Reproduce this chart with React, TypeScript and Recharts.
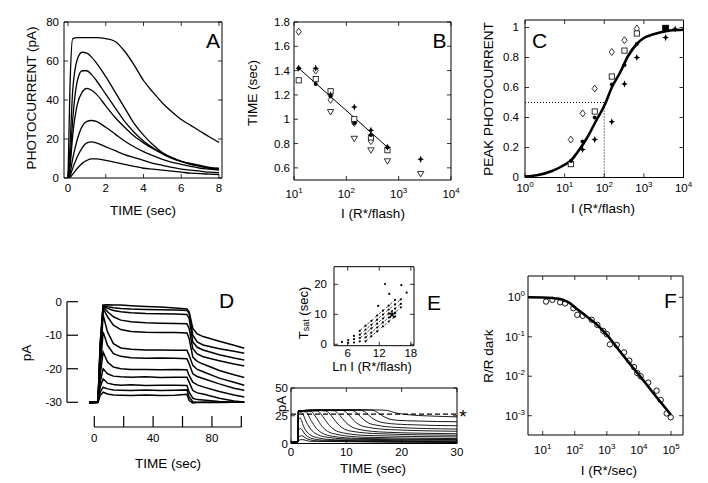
import React from 'react';
import { ComposedChart, Line, Scatter, XAxis, YAxis, ReferenceArea, ReferenceLine } from 'recharts';

const W = 708;
const H = 483;
const FONT = '"Liberation Sans", Arial, Helvetica, sans-serif';
const TFS = 11.5;
const LFS = 13.5;

// ---------- Panel A ----------
const A_TIME = [0, 0.1, 0.25, 0.5, 0.75, 1, 1.25, 1.5, 2, 2.5, 3, 3.5, 4, 4.5, 5, 5.5, 6, 6.5, 7, 7.5, 8];
const A_TRACE_1 = [0, 45, 71.5, 72, 72, 72, 72, 72, 71.5, 70, 65, 58, 50, 44, 38.5, 34, 30, 27, 24, 21, 18.3];
const A_TRACE_2 = [0, 15, 45, 61, 64.5, 64, 62, 59, 52, 44, 36, 28, 22, 17, 13, 10.5, 8.5, 7, 6, 5, 4.5];
const A_TRACE_3 = [0, 8, 30, 50, 55, 55, 53, 50, 43, 36, 29, 23.5, 19, 15.5, 12.5, 10, 8.5, 7, 6, 5, 4.5];
const A_TRACE_4 = [0, 5, 22, 38, 44, 46, 45, 43, 37, 31, 26, 21.5, 18, 15, 12.5, 10.5, 8.5, 7.5, 6.5, 5.5, 5];
const A_TRACE_5 = [0, 2, 10, 20, 26.5, 29, 29.5, 29, 26, 22.5, 19, 16, 13.5, 11.5, 9.5, 8, 7, 6, 5, 4.5, 4];
const A_TRACE_6 = [0, 1, 5, 11, 15.5, 18, 18.5, 18, 16, 14, 12, 10.5, 9, 7.5, 6.5, 5.5, 4.5, 4, 3.5, 3, 2.8];
const A_TRACE_7 = [0, 0.3, 2, 5, 7.5, 9, 9.8, 9.8, 9, 8, 7, 6, 5, 4.5, 4, 3.5, 3, 2.5, 2.2, 2, 1.8];
const A_X_TICKS = [0, 2, 4, 6, 8];
const A_Y_TICKS = [0, 20, 40, 60, 80];

// ---------- Panel B ----------
const B_DIAMOND_I = [12.3, 26, 50, 142, 295];
const B_DIAMOND_T = [1.72, 1.4, 1.16, 0.97, 0.82];
const B_SQUARE_I = [12.3, 26, 50, 142, 295, 610];
const B_SQUARE_T = [1.32, 1.33, 1.23, 1.0, 0.85, 0.745];
const B_TRI_I = [50, 142, 295, 610, 2630];
const B_TRI_T = [1.06, 0.84, 0.745, 0.655, 0.55];
const B_STAR_I = [12.3, 26, 50, 142, 295, 610, 2630];
const B_STAR_T = [1.42, 1.42, 1.2, 1.1, 0.91, 0.77, 0.67];
const B_DOT_I = [12.3, 26, 50, 142, 295, 610];
const B_DOT_T = [1.42, 1.29, 1.19, 0.97, 0.87, 0.77];
const B_FIT_I = [12.3, 610];
const B_FIT_T = [1.42, 0.77];
const B_X_TICKS = [10, 100, 1000, 10000];
const B_Y_TICKS = [0.6, 0.8, 1, 1.2, 1.4, 1.6, 1.8];

// ---------- Panel C ----------
const C_DIAMOND_I = [14.3, 28.6, 57.5, 155, 324, 663];
const C_DIAMOND_P = [0.253, 0.427, 0.593, 0.837, 0.915, 0.993];
const C_SQUARE_I = [14.3, 57.5, 155, 324, 663];
const C_SQUARE_P = [0.089, 0.44, 0.673, 0.846, 0.96];
const C_SQFILL_I = [3550];
const C_SQFILL_P = [0.995];
const C_STAR_I = [28.3, 57.5, 155, 324, 663, 3550, 6150];
const C_STAR_P = [0.187, 0.253, 0.371, 0.624, 0.8, 0.933, 0.99];
const C_DOT_I = [14.3, 28.3, 57.5, 155, 324, 663, 3550];
const C_DOT_P = [0.11, 0.24, 0.4, 0.62, 0.75, 0.89, 0.99];
const C_FIT_I = [1, 2, 5, 10, 14, 20, 36, 60, 105, 155, 251, 400, 663, 1000, 1740, 4600, 10000];
const C_FIT_P = [0.006, 0.015, 0.045, 0.085, 0.11, 0.16, 0.26, 0.37, 0.49, 0.6, 0.7, 0.81, 0.89, 0.93, 0.955, 0.98, 0.985];
const C_X_TICKS = [1, 10, 100, 1000, 10000];
const C_Y_TICKS = [0, 0.2, 0.4, 0.6, 0.8, 1];

// ---------- Panel D ----------
const D_TIME = [-3.5, 2.5, 4, 6, 9, 13, 18, 25, 35, 45, 55, 63, 64.5, 67, 70, 74, 85, 95, 102];
const D_TRACE_1 = [-30.3, -30, -12, -1, -0.9, -1, -1, -1.2, -1.4, -1.6, -1.9, -2.2, -3, -8, -9.6, -10.4, -11.8, -13, -13.9];
const D_TRACE_2 = [-30.2, -30, -13, -1.2, -1.5, -1.8, -2, -2.2, -2.3, -2.4, -2.5, -2.6, -3.5, -10, -12, -12.9, -14, -14.8, -15.4];
const D_TRACE_3 = [-30, -30, -14, -1.3, -2, -2.6, -3, -3.3, -3.5, -3.6, -3.7, -3.8, -5, -12, -13.6, -14.4, -15.8, -16.8, -17.4];
const D_TRACE_4 = [-30.1, -30, -15, -1.5, -3, -4.5, -5.5, -6, -6.3, -6.4, -6.5, -6.6, -8, -14, -15.6, -16.4, -17.6, -18.6, -19.2];
const D_TRACE_5 = [-30, -30, -16, -2, -4.5, -7, -8.3, -8.9, -9.1, -9.2, -9.2, -9.3, -11, -16.5, -17.8, -18.6, -20.5, -21.8, -22.6];
const D_TRACE_6 = [-30.2, -30, -18, -4, -9, -12.5, -13.8, -14.2, -14.4, -14.4, -14.5, -14.5, -16, -19, -20.2, -20.9, -22.8, -24, -24.9];
const D_TRACE_7 = [-30, -30, -20, -9, -13, -15.5, -16.3, -16.7, -16.9, -16.8, -16.9, -17, -18.5, -21.5, -22.3, -22.9, -24.5, -25.8, -26.4];
const D_TRACE_8 = [-30.1, -30, -22, -15, -18, -19.5, -20, -20.2, -20.2, -20.3, -20.2, -20.3, -22, -24, -24.8, -25.4, -26.8, -27.8, -28.4];
const D_TRACE_9 = [-30, -30, -24, -20, -21.5, -22.2, -22.4, -22.5, -22.4, -22.6, -22.5, -22.5, -24, -26.5, -27.2, -27.5, -28.8, -29.6, -29.9];
const D_TRACE_10 = [-30.2, -30, -25.5, -23, -24.3, -24.7, -24.9, -24.8, -25, -24.9, -24.9, -25, -27, -28.8, -29.2, -29.3, -29.8, -30, -30];
const D_TRACE_11 = [-30, -30, -27, -25.5, -26, -26.3, -26.4, -26.5, -26.3, -26.5, -26.4, -26.3, -28.5, -29.8, -30, -30, -30, -30, -30];
const D_TRACE_12 = [-30.1, -30, -28, -27, -27.5, -27.8, -27.9, -28, -27.8, -28, -27.9, -27.6, -29.5, -30.2, -30.1, -30, -30.1, -30, -30];
const D_X_TICKS = [0, 20, 40, 60, 80, 100];
const D_Y_TICKS = [0, -10, -20, -30];

// ---------- Panel E (inset) ----------
const EI_A_X = [8.3, 9.4, 10.5, 11.6, 12.7, 13.8, 15.0];
const EI_A_Y = [4.5, 6.2, 7.8, 9.6, 11.2, 12.9, 14.8];
const EI_B_X = [8.3, 9.4, 10.5, 11.6, 12.7, 13.8, 15.0, 16.1];
const EI_B_Y = [3.2, 4.9, 6.5, 8.2, 9.9, 11.6, 13.3, 15.0];
const EI_C_X = [8.3, 9.4, 10.5, 11.6, 12.7, 13.8, 15.0, 16.1];
const EI_C_Y = [2.1, 3.6, 5.3, 6.9, 8.6, 10.2, 11.9, 13.5];
const EI_D_X = [9.4, 10.5, 11.6, 12.7, 13.8, 15.0, 16.1];
const EI_D_Y = [2.3, 3.9, 5.6, 7.3, 8.9, 10.6, 12.3];
const EI_E_X = [9.4, 10.5, 11.6, 12.7, 13.8, 15.0];
const EI_E_Y = [1.0, 2.7, 4.3, 6.0, 7.6, 9.3];
const EI_EXTRA_X = [4.9, 6.1, 6.1, 7.2, 7.2, 7.2, 8.3, 11.8, 13.1, 13.9, 16.2, 17.2];
const EI_EXTRA_Y = [0.8, 1.4, 0.5, 2.8, 1.7, 0.6, 1.0, 12.8, 20.1, 16.8, 19.7, 17.2];
const EI_X_TICKS = [6, 12, 18];
const EI_Y_TICKS = [0, 10, 20];

// ---------- Panel E (main) ----------
const E_SAT: [number, number][] = [[0, 26.5], [30, 26.5]];
const E_TR_1: [number, number][] = [[0, 1.5], [1.25, 1.5], [1.35, 29.5], [5, 30.3], [12, 30.5], [17, 30], [19, 27.5], [21, 26], [25, 24.8], [30, 24]];
const E_TR_2: [number, number][] = [[0, 1.5], [1.25, 1.5], [1.35, 29.5], [5, 30.2], [14.5, 30], [15.5, 28.5], [16.5, 25], [17.5, 22.5], [19, 21], [23, 20.2], [30, 19.6]];
const E_TR_3: [number, number][] = [[0, 1.5], [1.25, 1.5], [1.35, 29.5], [5, 30], [12.5, 30], [13.5, 28], [14.5, 23.5], [15.5, 20.5], [17, 18.5], [21, 17], [30, 16]];
const E_TR_4: [number, number][] = [[0, 1.5], [1.25, 1.5], [1.35, 29.5], [5, 30], [11, 29.8], [12, 27], [13, 22], [14, 18.5], [15.5, 16.5], [19, 14.5], [30, 13]];
const E_TR_5: [number, number][] = [[0, 1.5], [1.25, 1.5], [1.35, 29.5], [5, 30], [9.3, 29.8], [10.3, 26.5], [11.3, 21], [12.3, 17], [14, 14.5], [18, 12.5], [30, 11]];
const E_TR_6: [number, number][] = [[0, 1.5], [1.25, 1.5], [1.35, 29.5], [5, 29.8], [7.8, 29.5], [8.8, 25.5], [9.8, 19.5], [10.8, 15.5], [12.5, 12.5], [17, 10.2], [30, 8.8]];
const E_TR_7: [number, number][] = [[0, 1.5], [1.25, 1.5], [1.35, 29.5], [4, 29.8], [6.3, 29.3], [7.3, 25], [8.3, 18.5], [9.3, 14], [11, 11], [16, 8.8], [30, 7.4]];
const E_TR_8: [number, number][] = [[0, 1.5], [1.25, 1.5], [1.35, 29.5], [4.8, 29.2], [5.8, 24], [6.8, 17], [7.8, 12.5], [9.5, 9.5], [14, 7.2], [30, 5.9]];
const E_TR_9: [number, number][] = [[0, 1.5], [1.25, 1.5], [1.35, 29.3], [3.6, 29], [4.6, 23], [5.6, 15.5], [6.6, 11], [8.5, 8], [13, 5.7], [30, 4.4]];
const E_TR_10: [number, number][] = [[0, 1.5], [1.25, 1.5], [1.35, 29], [2.7, 28.5], [3.6, 21], [4.6, 13.5], [5.6, 9.5], [7.5, 6.5], [12, 4.6], [30, 3.5]];
const E_TR_11: [number, number][] = [[0, 1.5], [1.25, 1.5], [1.35, 28.5], [1.9, 28], [2.8, 19], [3.8, 11.5], [4.8, 8], [7, 5.3], [11, 3.9], [30, 3]];
const E_TR_12: [number, number][] = [[0, 1.5], [1.25, 1.5], [1.35, 22], [1.6, 23], [2.4, 14], [3.4, 8], [5, 5], [8, 3.3], [30, 2.2]];
const E_TR_13: [number, number][] = [[0, 1.5], [1.25, 1.5], [1.35, 12], [1.7, 13.5], [2.6, 8], [3.8, 4.5], [6, 3], [30, 1.6]];
const E_TR_14: [number, number][] = [[0, 1.5], [1.25, 1.5], [1.4, 6], [1.9, 7], [3, 4], [5, 2.3], [30, 1.2]];
const E_TR_15: [number, number][] = [[0, 1.2], [1.25, 1.2], [1.4, 3], [2, 3.5], [3.5, 2], [30, 0.9]];
const E_X_TICKS = [0, 10, 20, 30];
const E_Y_TICKS = [0, 25, 50];

// ---------- Panel F ----------
const F_I = [12.7, 20, 35, 50, 90, 120, 177, 336, 506, 777, 988, 1250, 2030, 3430, 5000, 7030, 8900, 11300, 19500, 35500, 47600, 73300, 98000];
const F_R = [0.78, 0.86, 0.75, 0.7, 0.53, 0.36, 0.34, 0.27, 0.2, 0.14, 0.117, 0.064, 0.062, 0.04, 0.025, 0.017, 0.012, 0.01, 0.0069, 0.0043, 0.0025, 0.00114, 0.00091];
const F_FIT_I = [3.5, 10, 20, 40, 70, 100, 200, 500, 1000, 3000, 10000, 30000, 100000];
const F_FIT_R = [1.0, 0.99, 0.96, 0.88, 0.71, 0.56, 0.36, 0.2, 0.111, 0.036, 0.0108, 0.0035, 0.00105];
const F_X_TICKS = [10, 100, 1000, 10000, 100000];
const F_Y_TICKS = [1, 0.1, 0.01, 0.001];

// ---------- helpers ----------
type Box = { L: number; R: number; T: number; B: number };
type Pt = { x: number; y: number };
const zip = (xs: number[], ys: number[]): Pt[] => xs.map((x, i) => ({ x, y: ys[i] }));
const fromPairs = (ps: [number, number][]): Pt[] => ps.map(([x, y]) => ({ x, y }));
// axes take 1px each (XAxis height 1, YAxis width 1) so the plot box is exactly L..R, T..B
const margins = (b: Box) => ({ left: b.L - 1, right: W - b.R, top: b.T, bottom: H - b.B - 1 });
const abs: React.CSSProperties = { position: 'absolute', left: 0, top: 0 };
const TL = 4;

const PowText = ({ x, y, exp, anchor }: { x: number; y: number; exp: number; anchor: 'middle' | 'end' }) => (
  <text x={x} y={y} textAnchor={anchor} fontSize={TFS} fontFamily={FONT} fill="#000">
    10<tspan dy={-5} fontSize={8}>{exp}</tspan>
  </text>
);

const xTick = (b: Box, baseY: number, pow: boolean) => (p: any) => {
  const x = p.x as number;
  const v = p.payload.value as number;
  return (
    <g>
      <line x1={x} x2={x} y1={b.B} y2={b.B - TL} stroke="#000" strokeWidth={0.8} />
      <line x1={x} x2={x} y1={b.T} y2={b.T + TL} stroke="#000" strokeWidth={0.8} />
      {pow ? (
        <PowText x={x} y={baseY} exp={Math.round(Math.log10(v))} anchor="middle" />
      ) : (
        <text x={x} y={baseY} textAnchor="middle" fontSize={TFS} fontFamily={FONT} fill="#000">{String(v)}</text>
      )}
    </g>
  );
};

const yTick = (b: Box, labelX: number, pow: boolean, dy = 4) => (p: any) => {
  const y = p.y as number;
  const v = p.payload.value as number;
  return (
    <g>
      <line x1={b.L} x2={b.L + TL} y1={y} y2={y} stroke="#000" strokeWidth={0.8} />
      <line x1={b.R} x2={b.R - TL} y1={y} y2={y} stroke="#000" strokeWidth={0.8} />
      {pow ? (
        <PowText x={labelX} y={y + dy} exp={Math.round(Math.log10(v))} anchor="end" />
      ) : (
        <text x={labelX} y={y + dy} textAnchor="end" fontSize={TFS} fontFamily={FONT} fill="#000">{String(v)}</text>
      )}
    </g>
  );
};

const VTitle = ({ cx, cy, children, fs = LFS }: { cx: number; cy: number; children: React.ReactNode; fs?: number }) => (
  <text x={cx} y={cy} transform={`rotate(-90 ${cx} ${cy})`} textAnchor="middle" dominantBaseline="central" fontSize={fs} fontFamily={FONT} fill="#000">
    {children}
  </text>
);
const HTitle = ({ cx, y, children, fs = LFS }: { cx: number; y: number; children: React.ReactNode; fs?: number }) => (
  <text x={cx} y={y} textAnchor="middle" fontSize={fs} fontFamily={FONT} fill="#000">{children}</text>
);
const Letter = ({ cx, y, children }: { cx: number; y: number; children: React.ReactNode }) => (
  <text x={cx} y={y} textAnchor="middle" fontSize={21} fontFamily={FONT} fill="#000">{children}</text>
);

// marker shapes
const diamondShape = (p: any) => (
  <path d={`M${p.cx},${p.cy - 3.5}L${p.cx + 2.6},${p.cy}L${p.cx},${p.cy + 3.5}L${p.cx - 2.6},${p.cy}Z`} fill="#fff" stroke="#000" strokeWidth={0.8} />
);
const squareShape = (p: any) => (
  <rect x={p.cx - 2.6} y={p.cy - 2.6} width={5.2} height={5.2} fill="#fff" stroke="#000" strokeWidth={0.8} />
);
const squareFilledShape = (p: any) => (
  <rect x={p.cx - 3} y={p.cy - 3} width={6} height={6} fill="#000" stroke="#000" strokeWidth={0.8} />
);
const triDownShape = (p: any) => (
  <path d={`M${p.cx - 3.2},${p.cy - 2.4}L${p.cx + 3.2},${p.cy - 2.4}L${p.cx},${p.cy + 3}Z`} fill="#fff" stroke="#000" strokeWidth={0.8} />
);
const starShape = (p: any) => (
  <path
    d={`M${p.cx},${p.cy - 3.6}L${p.cx + 1},${p.cy - 1}L${p.cx + 3.3},${p.cy}L${p.cx + 1},${p.cy + 1}L${p.cx},${p.cy + 3.6}L${p.cx - 1},${p.cy + 1}L${p.cx - 3.3},${p.cy}L${p.cx - 1},${p.cy - 1}Z`}
    fill="#000"
  />
);
const dotShape = (r: number) => (p: any) => <circle cx={p.cx} cy={p.cy} r={r} fill="#000" />;
const ringShape = (p: any) => <circle cx={p.cx} cy={p.cy} r={2.7} fill="none" stroke="#000" strokeWidth={0.9} />;

const axisCommon = { tickSize: 0, tickMargin: 0, axisLine: false, tickLine: false, interval: 0 as const, allowDataOverflow: true };

// ---------- Panels ----------
const BOX_A: Box = { L: 64, R: 222, T: 22, B: 178 };
const A_XDOM: [number, number] = [-0.212, 8.159];
function PanelA() {
  const traces = [A_TRACE_1, A_TRACE_2, A_TRACE_3, A_TRACE_4, A_TRACE_5, A_TRACE_6, A_TRACE_7].map((ys) => zip(A_TIME, ys));
  return (
    <div style={abs}>
      <ComposedChart width={W} height={H} margin={margins(BOX_A)}>
        <XAxis type="number" dataKey="x" domain={A_XDOM} ticks={A_X_TICKS} height={1} tick={xTick(BOX_A, 192, false)} {...axisCommon} />
        <YAxis type="number" domain={[0, 80]} ticks={A_Y_TICKS} width={1} tick={yTick(BOX_A, BOX_A.L - 5, false)} {...axisCommon} />
        <ReferenceArea x1={A_XDOM[0]} x2={A_XDOM[1]} y1={0} y2={80} fill="none" stroke="#000" strokeWidth={1} ifOverflow="visible" />
        {traces.map((d, i) => (
          <Line key={i} data={d} dataKey="y" type="monotone" stroke="#000" strokeWidth={1.3} dot={false} isAnimationActive={false} />
        ))}
        <VTitle cx={31} cy={98}>PHOTOCURRENT (pA)</VTitle>
        <HTitle cx={143} y={215}>TIME (sec)</HTitle>
        <Letter cx={213} y={48}>A</Letter>
      </ComposedChart>
    </div>
  );
}

const BOX_B: Box = { L: 294, R: 451, T: 22, B: 180 };
function PanelB() {
  return (
    <div style={abs}>
      <ComposedChart width={W} height={H} margin={margins(BOX_B)}>
        <XAxis type="number" dataKey="x" scale="log" domain={[10, 10000]} ticks={B_X_TICKS} height={1} tick={xTick(BOX_B, 198, true)} {...axisCommon} />
        <YAxis type="number" domain={[0.5, 1.8]} ticks={B_Y_TICKS} width={1} tick={yTick(BOX_B, BOX_B.L - 4, false)} {...axisCommon} />
        <ReferenceArea x1={10} x2={10000} y1={0.5} y2={1.8} fill="none" stroke="#000" strokeWidth={1} ifOverflow="visible" />
        <Line data={zip(B_FIT_I, B_FIT_T)} dataKey="y" type="linear" stroke="#000" strokeWidth={1} dot={false} isAnimationActive={false} />
        <Scatter data={zip(B_DIAMOND_I, B_DIAMOND_T)} dataKey="y" shape={diamondShape} isAnimationActive={false} />
        <Scatter data={zip(B_SQUARE_I, B_SQUARE_T)} dataKey="y" shape={squareShape} isAnimationActive={false} />
        <Scatter data={zip(B_TRI_I, B_TRI_T)} dataKey="y" shape={triDownShape} isAnimationActive={false} />
        <Scatter data={zip(B_STAR_I, B_STAR_T)} dataKey="y" shape={starShape} isAnimationActive={false} />
        <Scatter data={zip(B_DOT_I, B_DOT_T)} dataKey="y" shape={dotShape(2)} isAnimationActive={false} />
        <VTitle cx={252} cy={93}>TIME (sec)</VTitle>
        <HTitle cx={373} y={218}>I (R*/flash)</HTitle>
        <Letter cx={439.5} y={47.5}>B</Letter>
      </ComposedChart>
    </div>
  );
}

const BOX_C: Box = { L: 525, R: 683.5, T: 20, B: 177.5 };
function PanelC() {
  return (
    <div style={abs}>
      <ComposedChart width={W} height={H} margin={margins(BOX_C)}>
        <XAxis type="number" dataKey="x" scale="log" domain={[1, 10000]} ticks={C_X_TICKS} height={1} tick={xTick(BOX_C, 192, true)} {...axisCommon} />
        <YAxis type="number" domain={[0, 1.05]} ticks={C_Y_TICKS} width={1} tick={yTick(BOX_C, BOX_C.L - 6, false, 3)} {...axisCommon} />
        <ReferenceArea x1={1} x2={10000} y1={0} y2={1.05} fill="none" stroke="#000" strokeWidth={1} ifOverflow="visible" />
        <ReferenceLine segment={[{ x: 1, y: 0.5 }, { x: 100, y: 0.5 }]} stroke="#000" strokeWidth={1} strokeDasharray="1 2" ifOverflow="visible" />
        <ReferenceLine segment={[{ x: 100, y: 0 }, { x: 100, y: 0.5 }]} stroke="#000" strokeWidth={1} strokeDasharray="1 2" ifOverflow="visible" />
        <Line data={zip(C_FIT_I, C_FIT_P)} dataKey="y" type="monotone" stroke="#000" strokeWidth={2.6} dot={false} isAnimationActive={false} />
        <Scatter data={zip(C_DIAMOND_I, C_DIAMOND_P)} dataKey="y" shape={diamondShape} isAnimationActive={false} />
        <Scatter data={zip(C_SQUARE_I, C_SQUARE_P)} dataKey="y" shape={squareShape} isAnimationActive={false} />
        <Scatter data={zip(C_SQFILL_I, C_SQFILL_P)} dataKey="y" shape={squareFilledShape} isAnimationActive={false} />
        <Scatter data={zip(C_STAR_I, C_STAR_P)} dataKey="y" shape={starShape} isAnimationActive={false} />
        <Scatter data={zip(C_DOT_I, C_DOT_P)} dataKey="y" shape={dotShape(2)} isAnimationActive={false} />
        <VTitle cx={488} cy={99}>PEAK PHOTOCURRENT</VTitle>
        <HTitle cx={603} y={213}>I (R*/flash)</HTitle>
        <Letter cx={539.5} y={47.5}>C</Letter>
      </ComposedChart>
    </div>
  );
}

const BOX_D: Box = { L: 67, R: 245, T: 296, B: 427 };
const D_XDOM: [number, number] = [-18.57, 102.5];
const D_YDOM: [number, number] = [-37.37, 1.7];
const dXTick = (p: any) => {
  const x = p.x as number;
  const v = p.payload.value as number;
  return (
    <g>
      <line x1={x} x2={x} y1={BOX_D.B} y2={BOX_D.B - 11} stroke="#000" strokeWidth={1.2} />
      {v % 40 === 0 ? (
        <text x={x} y={441.5} textAnchor="middle" fontSize={TFS} fontFamily={FONT} fill="#000">{String(v)}</text>
      ) : null}
    </g>
  );
};
const dYTick = (p: any) => {
  const y = p.y as number;
  const v = p.payload.value as number;
  return (
    <g>
      <line x1={BOX_D.L} x2={BOX_D.L + 11} y1={y} y2={y} stroke="#000" strokeWidth={1.2} />
      <text x={BOX_D.L - 5} y={y + 4} textAnchor="end" fontSize={TFS} fontFamily={FONT} fill="#000">{String(v)}</text>
    </g>
  );
};
function PanelD() {
  const traces = [D_TRACE_1, D_TRACE_2, D_TRACE_3, D_TRACE_4, D_TRACE_5, D_TRACE_6, D_TRACE_7, D_TRACE_8, D_TRACE_9, D_TRACE_10, D_TRACE_11, D_TRACE_12].map((ys) =>
    zip(D_TIME, ys)
  );
  return (
    <div style={abs}>
      <ComposedChart width={W} height={H} margin={margins(BOX_D)}>
        <XAxis type="number" dataKey="x" domain={D_XDOM} ticks={D_X_TICKS} height={1} tick={dXTick} {...axisCommon} />
        <YAxis type="number" domain={D_YDOM} ticks={D_Y_TICKS} width={1} tick={dYTick} {...axisCommon} />
        <ReferenceLine segment={[{ x: D_XDOM[0], y: 0 }, { x: D_XDOM[0], y: -30 }]} stroke="#000" strokeWidth={1.2} ifOverflow="visible" />
        <ReferenceLine segment={[{ x: 0, y: D_YDOM[0] }, { x: 100, y: D_YDOM[0] }]} stroke="#000" strokeWidth={1.2} ifOverflow="visible" />
        {traces.map((d, i) => (
          <Line key={i} data={d} dataKey="y" type="linear" stroke="#000" strokeWidth={1.5} dot={false} isAnimationActive={false} />
        ))}
        <VTitle cx={26} cy={353}>pA</VTitle>
        <HTitle cx={168} y={468}>TIME (sec)</HTitle>
        <Letter cx={226.5} y={308}>D</Letter>
      </ComposedChart>
    </div>
  );
}

const BOX_EI: Box = { L: 334, R: 414, T: 266.7, B: 345.7 };
const EI_XDOM: [number, number] = [3.4, 18.6];
const EI_YDOM: [number, number] = [-0.47, 25.87];
function PanelEInset() {
  const lines = [zip(EI_A_X, EI_A_Y), zip(EI_B_X, EI_B_Y), zip(EI_C_X, EI_C_Y), zip(EI_D_X, EI_D_Y), zip(EI_E_X, EI_E_Y)];
  return (
    <div style={abs}>
      <ComposedChart width={W} height={H} margin={margins(BOX_EI)}>
        <XAxis type="number" dataKey="x" domain={EI_XDOM} ticks={EI_X_TICKS} height={1} tick={xTick(BOX_EI, 357, false)} {...axisCommon} />
        <YAxis type="number" domain={EI_YDOM} ticks={EI_Y_TICKS} width={1} tick={yTick(BOX_EI, 327, false)} {...axisCommon} />
        <ReferenceArea x1={EI_XDOM[0]} x2={EI_XDOM[1]} y1={EI_YDOM[0]} y2={EI_YDOM[1]} fill="none" stroke="#000" strokeWidth={1} ifOverflow="visible" />
        {lines.map((d, i) => (
          <Line key={i} data={d} dataKey="y" type="linear" stroke="#000" strokeWidth={0.7} strokeDasharray="3 2" dot={false} isAnimationActive={false} />
        ))}
        {lines.map((d, i) => (
          <Scatter key={'s' + i} data={d} dataKey="y" shape={dotShape(1.1)} isAnimationActive={false} />
        ))}
        <Scatter data={zip(EI_EXTRA_X, EI_EXTRA_Y)} dataKey="y" shape={dotShape(1.1)} isAnimationActive={false} />
        <text x={392} y={327} textAnchor="middle" fontSize={23} fontFamily={FONT} fill="#000">*</text>
        <VTitle cx={303} cy={313} fs={13}>
          T<tspan fontSize={9} dy={3}>sat</tspan>
          <tspan dy={-3}> (sec)</tspan>
        </VTitle>
        <HTitle cx={372} y={370.5} fs={13}>Ln I (R*/flash)</HTitle>
        <Letter cx={434} y={310}>E</Letter>
      </ComposedChart>
    </div>
  );
}

const BOX_E: Box = { L: 291, R: 457, T: 388, B: 443.5 };
function PanelE() {
  const traces = [E_TR_1, E_TR_2, E_TR_3, E_TR_4, E_TR_5, E_TR_6, E_TR_7, E_TR_8, E_TR_9, E_TR_10, E_TR_11, E_TR_12, E_TR_13, E_TR_14, E_TR_15].map(fromPairs);
  return (
    <div style={abs}>
      <ComposedChart width={W} height={H} margin={margins(BOX_E)}>
        <XAxis type="number" dataKey="x" domain={[0, 30]} ticks={E_X_TICKS} height={1} tick={xTick(BOX_E, 456, false)} {...axisCommon} />
        <YAxis type="number" domain={[0, 50]} ticks={E_Y_TICKS} width={1} tick={yTick(BOX_E, 288, false)} {...axisCommon} />
        <ReferenceArea x1={0} x2={30} y1={0} y2={50} fill="none" stroke="#000" strokeWidth={1} ifOverflow="visible" />
        {traces.map((d, i) => (
          <Line key={i} data={d} dataKey="y" type="monotone" stroke="#000" strokeWidth={0.9} dot={false} isAnimationActive={false} />
        ))}
        <Line data={fromPairs(E_SAT)} dataKey="y" type="linear" stroke="#000" strokeWidth={1.4} strokeDasharray="5 3" dot={false} isAnimationActive={false} />
        <text x={463} y={423} textAnchor="middle" fontSize={19} fontFamily={FONT} fill="#000">*</text>
        <VTitle cx={281} cy={404}>pA</VTitle>
        <HTitle cx={373} y={473}>TIME (sec)</HTitle>
      </ComposedChart>
    </div>
  );
}

const BOX_F: Box = { L: 528, R: 683, T: 276, B: 435 };
const F_XDOM: [number, number] = [3.48, 236600];
const F_YDOM: [number, number] = [0.000324, 3.47];
function PanelF() {
  return (
    <div style={abs}>
      <ComposedChart width={W} height={H} margin={margins(BOX_F)}>
        <XAxis type="number" dataKey="x" scale="log" domain={F_XDOM} ticks={F_X_TICKS} height={1} tick={xTick(BOX_F, 454, true)} {...axisCommon} />
        <YAxis type="number" scale="log" domain={F_YDOM} ticks={F_Y_TICKS} width={1} tick={yTick(BOX_F, 525, true)} {...axisCommon} />
        <ReferenceArea x1={F_XDOM[0]} x2={F_XDOM[1]} y1={F_YDOM[0]} y2={F_YDOM[1]} fill="none" stroke="#000" strokeWidth={1} ifOverflow="visible" />
        <Line data={zip(F_FIT_I, F_FIT_R)} dataKey="y" type="monotone" stroke="#000" strokeWidth={2.6} dot={false} isAnimationActive={false} />
        <Scatter data={zip(F_I, F_R)} dataKey="y" shape={ringShape} isAnimationActive={false} />
        <VTitle cx={488} cy={356}>R/R dark</VTitle>
        <HTitle cx={609} y={475}>I (R*/sec)</HTitle>
        <Letter cx={670.5} y={307.5}>F</Letter>
      </ComposedChart>
    </div>
  );
}

export default function App() {
  return (
    <div style={{ position: 'absolute', left: 0, top: 0, width: W, height: H, background: '#fff', overflow: 'hidden' }}>
      <PanelA />
      <PanelB />
      <PanelC />
      <PanelD />
      <PanelEInset />
      <PanelE />
      <PanelF />
    </div>
  );
}
